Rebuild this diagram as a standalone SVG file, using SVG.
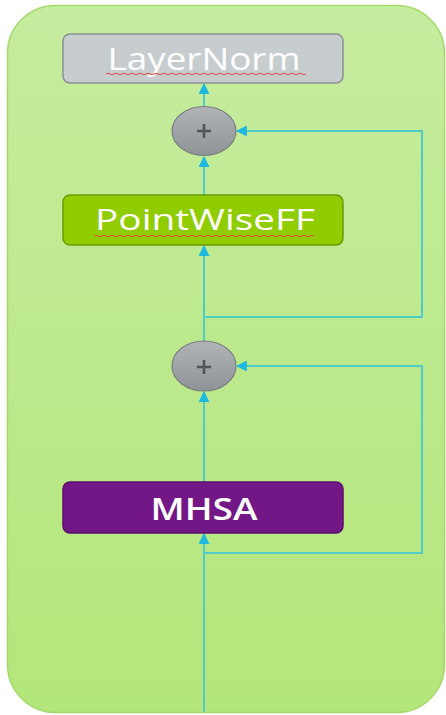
<svg xmlns="http://www.w3.org/2000/svg" width="446" height="715" viewBox="0 0 446 715">
  <defs>
    <linearGradient id="panelFill" x1="0" y1="0" x2="0" y2="1">
      <stop offset="0" stop-color="#c6ec9f"/>
      <stop offset="1" stop-color="#b3e67a"/>
    </linearGradient>
    <linearGradient id="addFill" x1="0" y1="0" x2="0" y2="1">
      <stop offset="0" stop-color="#b0b4b6"/>
      <stop offset="1" stop-color="#8e9395"/>
    </linearGradient>
    <marker id="tip" viewBox="0 0 10 10" refX="9" refY="5" markerWidth="11" markerHeight="11" markerUnits="userSpaceOnUse" orient="auto">
      <path d="M0,0 L10,5 L0,10 Z" fill="#1fb9e0"/>
    </marker>
  </defs>
  <style>
    .box { stroke-width: 1.5; }
    .label { font-family: "Open Sans", "Liberation Sans", sans-serif; fill: #ffffff; text-anchor: middle; }
    .wire { fill: none; stroke: #4fcbc8; stroke-width: 2; }
    .arrow { marker-end: url(#tip); }
    .add { fill: url(#addFill); stroke: #7b8082; stroke-width: 1.2; }
    .plus { stroke: #505558; stroke-width: 2.5; fill: none; }
    .squiggle { fill: none; stroke: #e04848; stroke-width: 1; }
  </style>

  <!-- encoder block background -->
  <rect x="7.5" y="5.5" width="437" height="707" rx="48" ry="48" fill="url(#panelFill)" stroke="#a4d86a" stroke-width="1.5"/>

  <!-- connectors -->
  <g id="connectors">
    <line class="wire arrow" x1="204" y1="712" x2="204" y2="534"/>
    <line class="wire arrow" x1="204" y1="482" x2="204" y2="392"/>
    <line class="wire arrow" x1="204" y1="341" x2="204" y2="246"/>
    <line class="wire arrow" x1="204" y1="195" x2="204" y2="157"/>
    <line class="wire arrow" x1="204" y1="106" x2="204" y2="84"/>
    <polyline class="wire arrow" points="204,553 422,553 422,366 237,366"/>
    <polyline class="wire arrow" points="204,317 422,317 422,131 237,131"/>
  </g>

  <!-- LayerNorm -->
  <g id="layernorm">
    <rect class="box" x="63" y="34" width="280" height="49" rx="7" fill="#c7ccce" stroke="#8b9092"/>
    <text class="label" x="204" y="70" font-size="31" textLength="193" lengthAdjust="spacingAndGlyphs">LayerNorm</text>
    <path class="squiggle" d="M106,74 q2,-1.5 4,0 t4,0 t4,0 t4,0 t4,0 t4,0 t4,0 t4,0 t4,0 t4,0 t4,0 t4,0 t4,0 t4,0 t4,0 t4,0 t4,0 t4,0 t4,0 t4,0 t4,0 t4,0 t4,0 t4,0 t4,0 t4,0 t4,0 t4,0 t4,0 t4,0 t4,0 t4,0 t4,0 t4,0 t4,0 t4,0 t4,0 t4,0 t4,0 t4,0 t4,0 t4,0 t4,0 t4,0 t4,0 t4,0 t4,0 t4,0 t4,0 t4,0"/>
  </g>

  <!-- residual add (after feed-forward) -->
  <g id="add2">
    <ellipse class="add" cx="204" cy="131" rx="32" ry="24.5"/>
    <path class="plus" d="M197,131 H211 M204,124 V138"/>
  </g>

  <!-- PointWiseFF -->
  <g id="pointwiseff">
    <rect class="box" x="63" y="195" width="280" height="50" rx="7" fill="#8fcc00" stroke="#6b9a08"/>
    <text class="label" x="205" y="230" font-size="30" textLength="220" lengthAdjust="spacingAndGlyphs">PointWiseFF</text>
    <path class="squiggle" d="M94,236 q2,-1.5 4,0 t4,0 t4,0 t4,0 t4,0 t4,0 t4,0 t4,0 t4,0 t4,0 t4,0 t4,0 t4,0 t4,0 t4,0 t4,0 t4,0 t4,0 t4,0 t4,0 t4,0 t4,0 t4,0 t4,0 t4,0 t4,0 t4,0 t4,0 t4,0 t4,0 t4,0 t4,0 t4,0 t4,0 t4,0 t4,0 t4,0 t4,0 t4,0 t4,0 t4,0 t4,0 t4,0 t4,0 t4,0 t4,0 t4,0 t4,0 t4,0 t4,0 t4,0 t4,0 t4,0 t4,0 t4,0"/>
  </g>

  <!-- residual add (after attention) -->
  <g id="add1">
    <ellipse class="add" cx="204" cy="366" rx="32" ry="25"/>
    <path class="plus" d="M197,367 H211 M204,360 V374"/>
  </g>

  <!-- MHSA -->
  <g id="mhsa">
    <rect class="box" x="63" y="482" width="280" height="51" rx="7" fill="#731787" stroke="#5a0f6a"/>
    <text class="label" x="204" y="520" font-size="31" font-weight="600" textLength="107" lengthAdjust="spacingAndGlyphs">MHSA</text>
  </g>
</svg>
